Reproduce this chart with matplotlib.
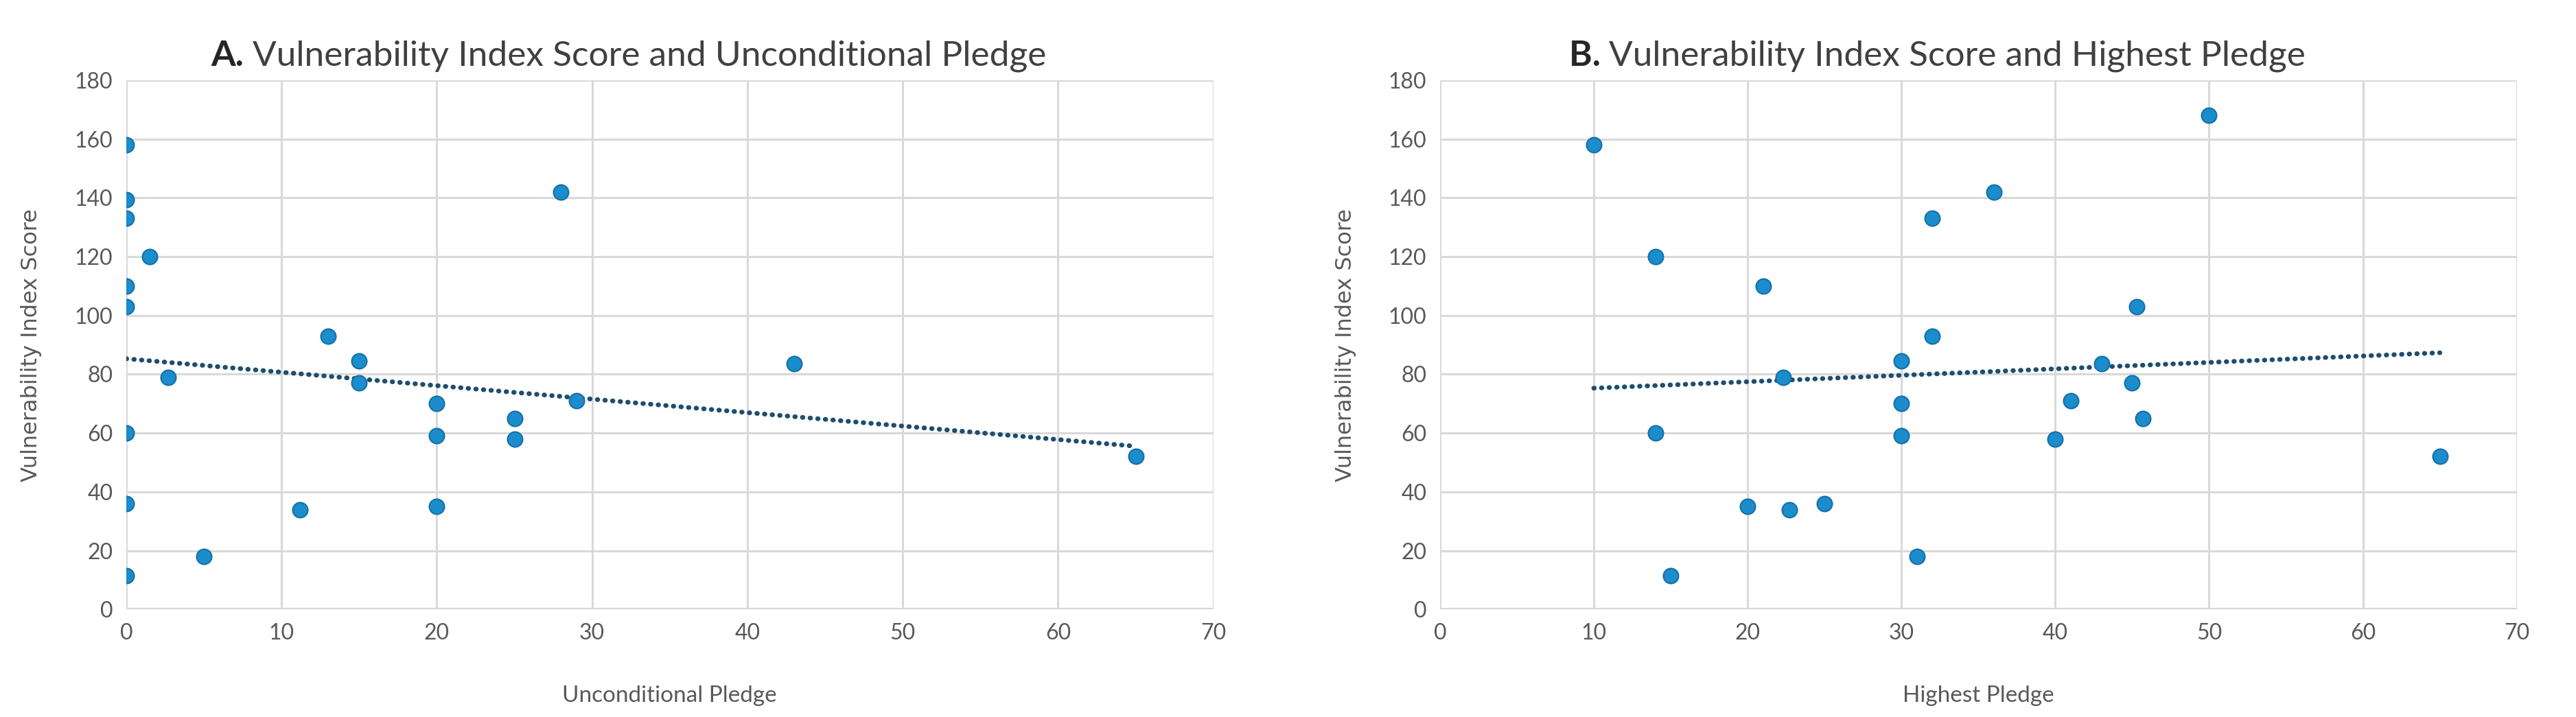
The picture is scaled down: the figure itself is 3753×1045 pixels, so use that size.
import numpy as np
import matplotlib
matplotlib.use("Agg")
import matplotlib.pyplot as plt

plt.rcParams['font.family'] = ['Lato', 'DejaVu Sans']

# Panel A: unconditional pledge vs vulnerability index score
uncond_pledge = [0, 0, 0, 1.5, 0, 0, 2.7, 0, 0, 0, 5, 11.2, 13, 15, 15,
                 20, 20, 20, 25, 25, 28, 29, 43, 65]
uncond_vuln = [158, 139.5, 133, 120, 110, 103, 79, 60, 36, 11.5, 18, 34, 93, 84.5, 77,
               70, 59, 35, 65, 58, 142, 71, 83.5, 52]

# Panel B: highest pledge vs vulnerability index score
high_pledge = [10, 14, 14, 15, 20, 21, 22.3, 22.7, 25, 30, 30, 30, 31, 32, 32,
               36, 40, 41, 43, 45, 45.3, 45.7, 50, 65]
high_vuln = [158, 120, 60, 11.5, 35, 110, 79, 34, 36, 84.5, 70, 59, 18, 133, 93,
             142, 58, 71, 83.5, 77, 103, 65, 168, 52]

panels = [
    ("A.", "Vulnerability Index Score and Unconditional Pledge", "Unconditional Pledge",
     uncond_pledge, uncond_vuln),
    ("B.", "Vulnerability Index Score and Highest Pledge", "Highest Pledge",
     high_pledge, high_vuln),
]

x_ticks = np.arange(0, 71, 10)
y_ticks = np.arange(0, 181, 20)

fig = plt.figure(figsize=(37.53, 10.45), dpi=100)
axes = [fig.add_axes([0.049, 0.150, 0.422, 0.738]),
        fig.add_axes([0.559, 0.150, 0.418, 0.738])]

titles = []
for ax, (tag, title, xlabel, xs, ys) in zip(axes, panels):
    xs = np.array(xs)
    ys = np.array(ys)
    ax.set_xlim(0, 70)
    ax.set_ylim(0, 180)
    ax.set_xticks(x_ticks)
    ax.set_yticks(y_ticks)
    ax.grid(True, color='#d9d9d9', linewidth=2.2, zorder=0)
    for s in ax.spines.values():
        s.set_visible(False)
    ax.axhline(0, color='#d0d0d0', linewidth=3, zorder=1)
    ax.tick_params(length=0, labelsize=23, labelcolor='#595959', pad=14)

    ax.scatter(xs, ys, s=250, color='#1b8ccc', edgecolor='#1670a8', linewidth=1.5, zorder=3)

    # linear trendline over the data range
    m, b = np.polyfit(xs, ys, 1)
    tx = np.array([xs.min(), xs.max()])
    ax.plot(tx, m * tx + b, color='#1f4e6e', linewidth=5, linestyle=(0, (0.1, 1.5)),
            dash_capstyle='round', zorder=2)

    ax.set_xlabel(xlabel, fontsize=24, color='#595959', labelpad=44)
    ax.set_ylabel("Vulnerability Index Score", fontsize=23, color='#595959',
                  family='DejaVu Sans', labelpad=34)

    t1 = ax.text(0.5, 1.027, tag + " ", transform=ax.transAxes, fontsize=37,
                 fontweight='bold', color='#262626', ha='left', va='baseline')
    t2 = ax.annotate(title, xy=(1, 0), xycoords=t1, fontsize=37, color='#404040',
                     ha='left', va='bottom')
    titles.append((ax, t1, t2))

# center each two-part title over the chart area (a bit left of the plot centre)
fig.canvas.draw()
r = fig.canvas.get_renderer()
for ax, t1, t2 in titles:
    w = t1.get_window_extent(r).width + t2.get_window_extent(r).width
    bb = ax.get_window_extent(r)
    cx = (bb.x0 + bb.x1) / 2 - 60
    t1.set_x((cx - w / 2 - bb.x0) / bb.width)

fig.savefig("out.png", dpi=100, facecolor='white')
